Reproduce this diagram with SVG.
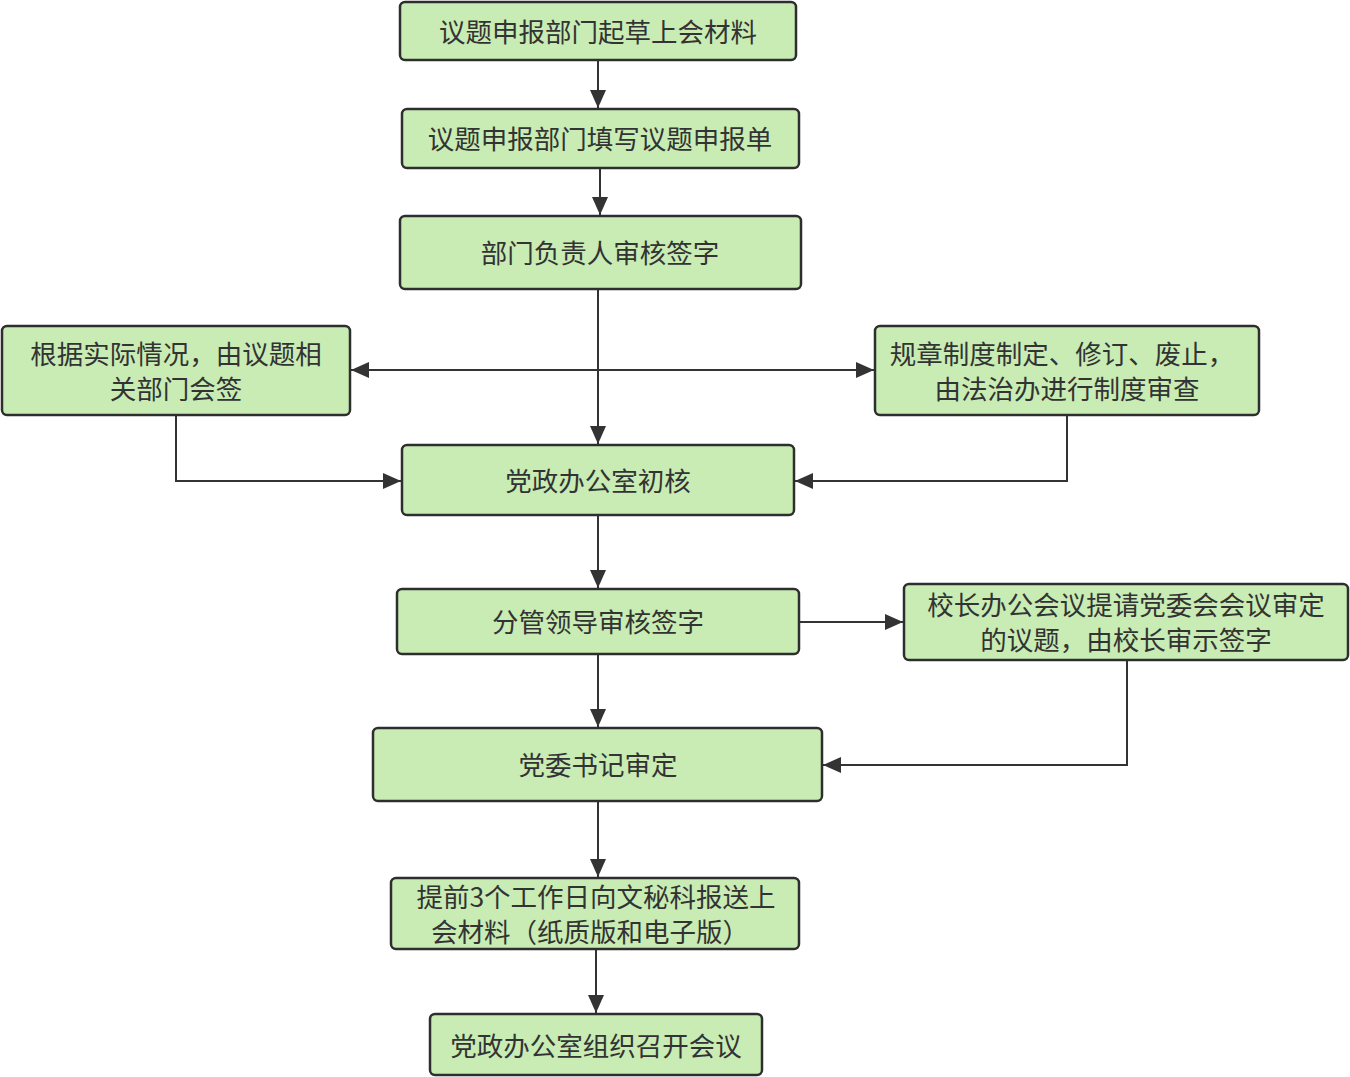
<svg xmlns="http://www.w3.org/2000/svg" width="1350" height="1077" viewBox="0 0 1350 1077">
<style>
.n rect{fill:#c8ecb4;stroke:#2e2e2e;stroke-width:2.5}
.n text{font-family:"Noto Sans CJK SC","Liberation Sans",sans-serif;font-size:26.5px;fill:#333;text-anchor:middle;dominant-baseline:central}
.c path{fill:none;stroke:#333;stroke-width:2}
</style>
<defs>
<marker id="b" markerWidth="18" markerHeight="16" refX="18" refY="8" orient="auto" markerUnits="userSpaceOnUse">
<path d="M0,0 L18,8 L0,16 z" fill="#333"/>
</marker>
</defs>
<rect width="1350" height="1077" fill="#fff"/>
<g class="c" id="connectors">
<path d="M598,60 V108" marker-end="url(#b)"/>
<path d="M600,168 V215" marker-end="url(#b)"/>
<path d="M598,290 V444" marker-end="url(#b)"/>
<path d="M598,370 H351" marker-end="url(#b)"/>
<path d="M598,370 H874" marker-end="url(#b)"/>
<path d="M176,416 V481 H401" marker-end="url(#b)"/>
<path d="M1067,416 V481 H795" marker-end="url(#b)"/>
<path d="M598,516 V588" marker-end="url(#b)"/>
<path d="M800,622 H903" marker-end="url(#b)"/>
<path d="M598,655 V727" marker-end="url(#b)"/>
<path d="M1127,661 V765 H823" marker-end="url(#b)"/>
<path d="M598,802 V877" marker-end="url(#b)"/>
<path d="M596,950 V1013" marker-end="url(#b)"/>
</g>
<g class="n" id="n1"><rect x="400" y="2" width="396" height="58" rx="5"/><text x="598" y="30">议题申报部门起草上会材料</text></g>
<g class="n" id="n2"><rect x="402" y="109" width="397" height="59" rx="5"/><text x="600" y="137">议题申报部门填写议题申报单</text></g>
<g class="n" id="n3"><rect x="400" y="216" width="401" height="73" rx="5"/><text x="600" y="251">部门负责人审核签字</text></g>
<g class="n" id="n4"><rect x="2" y="326" width="348" height="89" rx="5"/><text><tspan x="176" y="352">根据实际情况，由议题相</tspan><tspan x="176" y="387">关部门会签</tspan></text></g>
<g class="n" id="n5"><rect x="875" y="326" width="384" height="89" rx="5"/><text><tspan x="1062" y="352">规章制度制定、修订、废止，</tspan><tspan x="1067" y="387">由法治办进行制度审查</tspan></text></g>
<g class="n" id="n6"><rect x="402" y="445" width="392" height="70" rx="5"/><text x="598" y="479">党政办公室初核</text></g>
<g class="n" id="n7"><rect x="397" y="589" width="402" height="65" rx="5"/><text x="598" y="620">分管领导审核签字</text></g>
<g class="n" id="n8"><rect x="904" y="584" width="444" height="76" rx="5"/><text><tspan x="1126" y="603">校长办公会议提请党委会会议审定</tspan><tspan x="1126" y="638">的议题，由校长审示签字</tspan></text></g>
<g class="n" id="n9"><rect x="373" y="728" width="449" height="73" rx="5"/><text x="598" y="763">党委书记审定</text></g>
<g class="n" id="n10"><rect x="391" y="878" width="408" height="71" rx="5"/><text><tspan x="596" y="895">提前3个工作日向文秘科报送上</tspan><tspan x="590" y="930">会材料（纸质版和电子版）</tspan></text></g>
<g class="n" id="n11"><rect x="430" y="1014" width="332" height="61" rx="5"/><text x="596" y="1044">党政办公室组织召开会议</text></g>
</svg>
